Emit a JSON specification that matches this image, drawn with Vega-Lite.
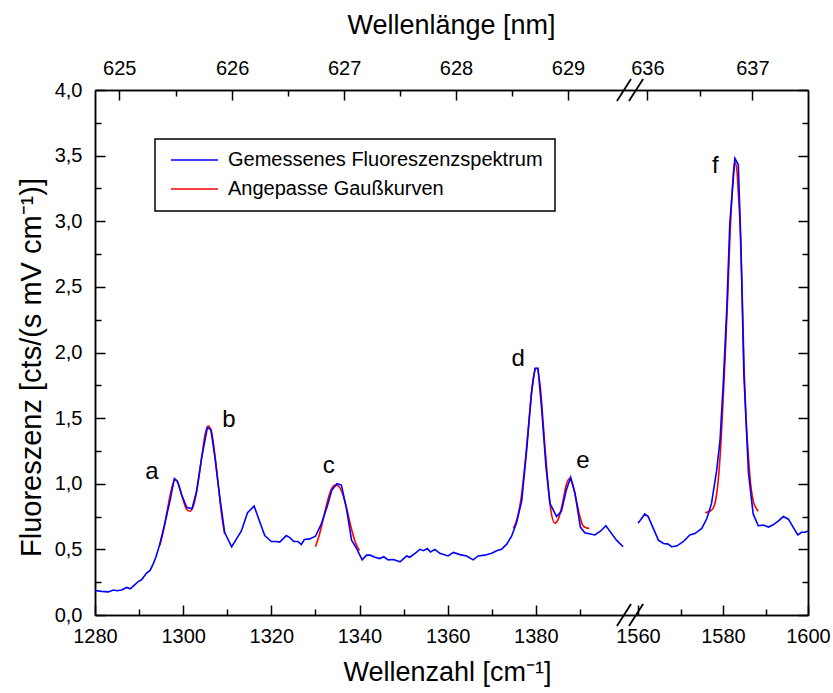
{
  "$schema": "https://vega.github.io/schema/vega-lite/v6.json",
  "width": 713,
  "height": 525,
  "autosize": {"type": "none"},
  "padding": {"left": 95, "top": 90, "right": 25, "bottom": 78},
  "background": "white",
  "config": {
    "view": {"stroke": null},
    "legend": {"strokeWidth": 1.5},
    "axis": {
      "grid": false,
      "domainColor": "black",
      "domainWidth": 1.5,
      "tickColor": "black",
      "tickWidth": 1.5,
      "labelFont": "Liberation Sans",
      "labelFontSize": 20,
      "labelColor": "black",
      "titleFont": "Liberation Sans",
      "titleFontSize": 27,
      "titleFontWeight": "normal",
      "titleColor": "black",
      "labelFlush": false,
      "labelOverlap": false,
      "labelBound": false
    }
  },
  "datasets": {
    "spec": [
      {"k":1280,"v":0.187,"p":"m1","s":"Gemessenes Fluoreszenzspektrum"},
      {"k":1281.5,"v":0.18,"p":"m1","s":"Gemessenes Fluoreszenzspektrum"},
      {"k":1283,"v":0.176,"p":"m1","s":"Gemessenes Fluoreszenzspektrum"},
      {"k":1284.2,"v":0.19,"p":"m1","s":"Gemessenes Fluoreszenzspektrum"},
      {"k":1285,"v":0.185,"p":"m1","s":"Gemessenes Fluoreszenzspektrum"},
      {"k":1286,"v":0.19,"p":"m1","s":"Gemessenes Fluoreszenzspektrum"},
      {"k":1287.2,"v":0.21,"p":"m1","s":"Gemessenes Fluoreszenzspektrum"},
      {"k":1288,"v":0.2,"p":"m1","s":"Gemessenes Fluoreszenzspektrum"},
      {"k":1289,"v":0.23,"p":"m1","s":"Gemessenes Fluoreszenzspektrum"},
      {"k":1289.8,"v":0.255,"p":"m1","s":"Gemessenes Fluoreszenzspektrum"},
      {"k":1290.6,"v":0.27,"p":"m1","s":"Gemessenes Fluoreszenzspektrum"},
      {"k":1291.7,"v":0.32,"p":"m1","s":"Gemessenes Fluoreszenzspektrum"},
      {"k":1292.5,"v":0.34,"p":"m1","s":"Gemessenes Fluoreszenzspektrum"},
      {"k":1293.2,"v":0.39,"p":"m1","s":"Gemessenes Fluoreszenzspektrum"},
      {"k":1293.8,"v":0.44,"p":"m1","s":"Gemessenes Fluoreszenzspektrum"},
      {"k":1294.7,"v":0.54,"p":"m1","s":"Gemessenes Fluoreszenzspektrum"},
      {"k":1295.8,"v":0.69,"p":"m1","s":"Gemessenes Fluoreszenzspektrum"},
      {"k":1297,"v":0.87,"p":"m1","s":"Gemessenes Fluoreszenzspektrum"},
      {"k":1298,"v":1.04,"p":"m1","s":"Gemessenes Fluoreszenzspektrum"},
      {"k":1298.7,"v":1.02,"p":"m1","s":"Gemessenes Fluoreszenzspektrum"},
      {"k":1299.6,"v":0.92,"p":"m1","s":"Gemessenes Fluoreszenzspektrum"},
      {"k":1300.8,"v":0.82,"p":"m1","s":"Gemessenes Fluoreszenzspektrum"},
      {"k":1302,"v":0.81,"p":"m1","s":"Gemessenes Fluoreszenzspektrum"},
      {"k":1303,"v":0.935,"p":"m1","s":"Gemessenes Fluoreszenzspektrum"},
      {"k":1304.2,"v":1.2,"p":"m1","s":"Gemessenes Fluoreszenzspektrum"},
      {"k":1305.5,"v":1.43,"p":"m1","s":"Gemessenes Fluoreszenzspektrum"},
      {"k":1306.3,"v":1.41,"p":"m1","s":"Gemessenes Fluoreszenzspektrum"},
      {"k":1307.2,"v":1.2,"p":"m1","s":"Gemessenes Fluoreszenzspektrum"},
      {"k":1308.3,"v":0.9,"p":"m1","s":"Gemessenes Fluoreszenzspektrum"},
      {"k":1309.4,"v":0.63,"p":"m1","s":"Gemessenes Fluoreszenzspektrum"},
      {"k":1311,"v":0.52,"p":"m1","s":"Gemessenes Fluoreszenzspektrum"},
      {"k":1312.1,"v":0.58,"p":"m1","s":"Gemessenes Fluoreszenzspektrum"},
      {"k":1313.2,"v":0.64,"p":"m1","s":"Gemessenes Fluoreszenzspektrum"},
      {"k":1314.6,"v":0.78,"p":"m1","s":"Gemessenes Fluoreszenzspektrum"},
      {"k":1316.1,"v":0.83,"p":"m1","s":"Gemessenes Fluoreszenzspektrum"},
      {"k":1317,"v":0.745,"p":"m1","s":"Gemessenes Fluoreszenzspektrum"},
      {"k":1318.5,"v":0.605,"p":"m1","s":"Gemessenes Fluoreszenzspektrum"},
      {"k":1320,"v":0.56,"p":"m1","s":"Gemessenes Fluoreszenzspektrum"},
      {"k":1321.1,"v":0.56,"p":"m1","s":"Gemessenes Fluoreszenzspektrum"},
      {"k":1321.9,"v":0.555,"p":"m1","s":"Gemessenes Fluoreszenzspektrum"},
      {"k":1323.4,"v":0.605,"p":"m1","s":"Gemessenes Fluoreszenzspektrum"},
      {"k":1324.2,"v":0.59,"p":"m1","s":"Gemessenes Fluoreszenzspektrum"},
      {"k":1325.1,"v":0.56,"p":"m1","s":"Gemessenes Fluoreszenzspektrum"},
      {"k":1326,"v":0.56,"p":"m1","s":"Gemessenes Fluoreszenzspektrum"},
      {"k":1326.8,"v":0.537,"p":"m1","s":"Gemessenes Fluoreszenzspektrum"},
      {"k":1327.5,"v":0.575,"p":"m1","s":"Gemessenes Fluoreszenzspektrum"},
      {"k":1328.7,"v":0.58,"p":"m1","s":"Gemessenes Fluoreszenzspektrum"},
      {"k":1330,"v":0.6,"p":"m1","s":"Gemessenes Fluoreszenzspektrum"},
      {"k":1331.3,"v":0.69,"p":"m1","s":"Gemessenes Fluoreszenzspektrum"},
      {"k":1332.7,"v":0.83,"p":"m1","s":"Gemessenes Fluoreszenzspektrum"},
      {"k":1333.7,"v":0.95,"p":"m1","s":"Gemessenes Fluoreszenzspektrum"},
      {"k":1334.9,"v":1.0,"p":"m1","s":"Gemessenes Fluoreszenzspektrum"},
      {"k":1335.9,"v":0.99,"p":"m1","s":"Gemessenes Fluoreszenzspektrum"},
      {"k":1337.1,"v":0.8,"p":"m1","s":"Gemessenes Fluoreszenzspektrum"},
      {"k":1338.2,"v":0.57,"p":"m1","s":"Gemessenes Fluoreszenzspektrum"},
      {"k":1339.3,"v":0.51,"p":"m1","s":"Gemessenes Fluoreszenzspektrum"},
      {"k":1340.6,"v":0.42,"p":"m1","s":"Gemessenes Fluoreszenzspektrum"},
      {"k":1341.6,"v":0.456,"p":"m1","s":"Gemessenes Fluoreszenzspektrum"},
      {"k":1342.4,"v":0.456,"p":"m1","s":"Gemessenes Fluoreszenzspektrum"},
      {"k":1343.5,"v":0.44,"p":"m1","s":"Gemessenes Fluoreszenzspektrum"},
      {"k":1344.6,"v":0.43,"p":"m1","s":"Gemessenes Fluoreszenzspektrum"},
      {"k":1345.5,"v":0.444,"p":"m1","s":"Gemessenes Fluoreszenzspektrum"},
      {"k":1346.5,"v":0.42,"p":"m1","s":"Gemessenes Fluoreszenzspektrum"},
      {"k":1347.7,"v":0.423,"p":"m1","s":"Gemessenes Fluoreszenzspektrum"},
      {"k":1349.2,"v":0.405,"p":"m1","s":"Gemessenes Fluoreszenzspektrum"},
      {"k":1350.7,"v":0.45,"p":"m1","s":"Gemessenes Fluoreszenzspektrum"},
      {"k":1351.4,"v":0.44,"p":"m1","s":"Gemessenes Fluoreszenzspektrum"},
      {"k":1352.6,"v":0.47,"p":"m1","s":"Gemessenes Fluoreszenzspektrum"},
      {"k":1353.7,"v":0.5,"p":"m1","s":"Gemessenes Fluoreszenzspektrum"},
      {"k":1354.5,"v":0.49,"p":"m1","s":"Gemessenes Fluoreszenzspektrum"},
      {"k":1355.4,"v":0.507,"p":"m1","s":"Gemessenes Fluoreszenzspektrum"},
      {"k":1356.1,"v":0.48,"p":"m1","s":"Gemessenes Fluoreszenzspektrum"},
      {"k":1357.1,"v":0.5,"p":"m1","s":"Gemessenes Fluoreszenzspektrum"},
      {"k":1358.2,"v":0.47,"p":"m1","s":"Gemessenes Fluoreszenzspektrum"},
      {"k":1360.1,"v":0.45,"p":"m1","s":"Gemessenes Fluoreszenzspektrum"},
      {"k":1361.3,"v":0.477,"p":"m1","s":"Gemessenes Fluoreszenzspektrum"},
      {"k":1362.8,"v":0.46,"p":"m1","s":"Gemessenes Fluoreszenzspektrum"},
      {"k":1364.3,"v":0.45,"p":"m1","s":"Gemessenes Fluoreszenzspektrum"},
      {"k":1365.8,"v":0.42,"p":"m1","s":"Gemessenes Fluoreszenzspektrum"},
      {"k":1366.9,"v":0.45,"p":"m1","s":"Gemessenes Fluoreszenzspektrum"},
      {"k":1368.4,"v":0.456,"p":"m1","s":"Gemessenes Fluoreszenzspektrum"},
      {"k":1370,"v":0.47,"p":"m1","s":"Gemessenes Fluoreszenzspektrum"},
      {"k":1371.1,"v":0.49,"p":"m1","s":"Gemessenes Fluoreszenzspektrum"},
      {"k":1372.2,"v":0.5,"p":"m1","s":"Gemessenes Fluoreszenzspektrum"},
      {"k":1373.4,"v":0.54,"p":"m1","s":"Gemessenes Fluoreszenzspektrum"},
      {"k":1374.5,"v":0.6,"p":"m1","s":"Gemessenes Fluoreszenzspektrum"},
      {"k":1375.6,"v":0.7,"p":"m1","s":"Gemessenes Fluoreszenzspektrum"},
      {"k":1376.8,"v":0.87,"p":"m1","s":"Gemessenes Fluoreszenzspektrum"},
      {"k":1377.9,"v":1.25,"p":"m1","s":"Gemessenes Fluoreszenzspektrum"},
      {"k":1379,"v":1.69,"p":"m1","s":"Gemessenes Fluoreszenzspektrum"},
      {"k":1379.8,"v":1.88,"p":"m1","s":"Gemessenes Fluoreszenzspektrum"},
      {"k":1380.5,"v":1.88,"p":"m1","s":"Gemessenes Fluoreszenzspektrum"},
      {"k":1381.3,"v":1.58,"p":"m1","s":"Gemessenes Fluoreszenzspektrum"},
      {"k":1382.3,"v":1.13,"p":"m1","s":"Gemessenes Fluoreszenzspektrum"},
      {"k":1383.2,"v":0.85,"p":"m1","s":"Gemessenes Fluoreszenzspektrum"},
      {"k":1384.7,"v":0.75,"p":"m1","s":"Gemessenes Fluoreszenzspektrum"},
      {"k":1385.8,"v":0.79,"p":"m1","s":"Gemessenes Fluoreszenzspektrum"},
      {"k":1386.9,"v":0.95,"p":"m1","s":"Gemessenes Fluoreszenzspektrum"},
      {"k":1387.9,"v":1.05,"p":"m1","s":"Gemessenes Fluoreszenzspektrum"},
      {"k":1388.9,"v":0.925,"p":"m1","s":"Gemessenes Fluoreszenzspektrum"},
      {"k":1390.1,"v":0.67,"p":"m1","s":"Gemessenes Fluoreszenzspektrum"},
      {"k":1391.1,"v":0.626,"p":"m1","s":"Gemessenes Fluoreszenzspektrum"},
      {"k":1393.4,"v":0.61,"p":"m1","s":"Gemessenes Fluoreszenzspektrum"},
      {"k":1394.7,"v":0.64,"p":"m1","s":"Gemessenes Fluoreszenzspektrum"},
      {"k":1395.9,"v":0.68,"p":"m1","s":"Gemessenes Fluoreszenzspektrum"},
      {"k":1397.2,"v":0.62,"p":"m1","s":"Gemessenes Fluoreszenzspektrum"},
      {"k":1398.3,"v":0.57,"p":"m1","s":"Gemessenes Fluoreszenzspektrum"},
      {"k":1399.8,"v":0.52,"p":"m1","s":"Gemessenes Fluoreszenzspektrum"},
      {"k":1559.7,"v":0.7,"p":"m2","s":"Gemessenes Fluoreszenzspektrum"},
      {"k":1560.5,"v":0.72,"p":"m2","s":"Gemessenes Fluoreszenzspektrum"},
      {"k":1561.6,"v":0.77,"p":"m2","s":"Gemessenes Fluoreszenzspektrum"},
      {"k":1562.4,"v":0.75,"p":"m2","s":"Gemessenes Fluoreszenzspektrum"},
      {"k":1563.6,"v":0.66,"p":"m2","s":"Gemessenes Fluoreszenzspektrum"},
      {"k":1564.8,"v":0.57,"p":"m2","s":"Gemessenes Fluoreszenzspektrum"},
      {"k":1566,"v":0.545,"p":"m2","s":"Gemessenes Fluoreszenzspektrum"},
      {"k":1567.1,"v":0.54,"p":"m2","s":"Gemessenes Fluoreszenzspektrum"},
      {"k":1567.9,"v":0.52,"p":"m2","s":"Gemessenes Fluoreszenzspektrum"},
      {"k":1569.1,"v":0.525,"p":"m2","s":"Gemessenes Fluoreszenzspektrum"},
      {"k":1570.7,"v":0.56,"p":"m2","s":"Gemessenes Fluoreszenzspektrum"},
      {"k":1572.2,"v":0.61,"p":"m2","s":"Gemessenes Fluoreszenzspektrum"},
      {"k":1573.4,"v":0.62,"p":"m2","s":"Gemessenes Fluoreszenzspektrum"},
      {"k":1575,"v":0.66,"p":"m2","s":"Gemessenes Fluoreszenzspektrum"},
      {"k":1576.2,"v":0.735,"p":"m2","s":"Gemessenes Fluoreszenzspektrum"},
      {"k":1577.3,"v":0.85,"p":"m2","s":"Gemessenes Fluoreszenzspektrum"},
      {"k":1578.5,"v":1.1,"p":"m2","s":"Gemessenes Fluoreszenzspektrum"},
      {"k":1579.3,"v":1.33,"p":"m2","s":"Gemessenes Fluoreszenzspektrum"},
      {"k":1580.1,"v":1.79,"p":"m2","s":"Gemessenes Fluoreszenzspektrum"},
      {"k":1580.9,"v":2.34,"p":"m2","s":"Gemessenes Fluoreszenzspektrum"},
      {"k":1581.6,"v":2.98,"p":"m2","s":"Gemessenes Fluoreszenzspektrum"},
      {"k":1582.8,"v":3.48,"p":"m2","s":"Gemessenes Fluoreszenzspektrum"},
      {"k":1583.6,"v":3.43,"p":"m2","s":"Gemessenes Fluoreszenzspektrum"},
      {"k":1584.2,"v":2.85,"p":"m2","s":"Gemessenes Fluoreszenzspektrum"},
      {"k":1584.9,"v":1.84,"p":"m2","s":"Gemessenes Fluoreszenzspektrum"},
      {"k":1586,"v":1.08,"p":"m2","s":"Gemessenes Fluoreszenzspektrum"},
      {"k":1587.1,"v":0.77,"p":"m2","s":"Gemessenes Fluoreszenzspektrum"},
      {"k":1588.3,"v":0.68,"p":"m2","s":"Gemessenes Fluoreszenzspektrum"},
      {"k":1589.5,"v":0.685,"p":"m2","s":"Gemessenes Fluoreszenzspektrum"},
      {"k":1590.7,"v":0.67,"p":"m2","s":"Gemessenes Fluoreszenzspektrum"},
      {"k":1591.7,"v":0.685,"p":"m2","s":"Gemessenes Fluoreszenzspektrum"},
      {"k":1593,"v":0.715,"p":"m2","s":"Gemessenes Fluoreszenzspektrum"},
      {"k":1594.2,"v":0.75,"p":"m2","s":"Gemessenes Fluoreszenzspektrum"},
      {"k":1595.4,"v":0.73,"p":"m2","s":"Gemessenes Fluoreszenzspektrum"},
      {"k":1596.5,"v":0.67,"p":"m2","s":"Gemessenes Fluoreszenzspektrum"},
      {"k":1597.6,"v":0.61,"p":"m2","s":"Gemessenes Fluoreszenzspektrum"},
      {"k":1598.5,"v":0.63,"p":"m2","s":"Gemessenes Fluoreszenzspektrum"},
      {"k":1599.3,"v":0.63,"p":"m2","s":"Gemessenes Fluoreszenzspektrum"},
      {"k":1600,"v":0.64,"p":"m2","s":"Gemessenes Fluoreszenzspektrum"}
    ],
    "fit": [
      {"k":1294.7,"v":0.53,"p":"f1","s":"Angepasse Gaußkurven"},
      {"k":1295.5,"v":0.64,"p":"f1","s":"Angepasse Gaußkurven"},
      {"k":1296.4,"v":0.8,"p":"f1","s":"Angepasse Gaußkurven"},
      {"k":1297.3,"v":0.95,"p":"f1","s":"Angepasse Gaußkurven"},
      {"k":1298.1,"v":1.03,"p":"f1","s":"Angepasse Gaußkurven"},
      {"k":1298.9,"v":1.0,"p":"f1","s":"Angepasse Gaußkurven"},
      {"k":1299.8,"v":0.9,"p":"f1","s":"Angepasse Gaußkurven"},
      {"k":1300.7,"v":0.81,"p":"f1","s":"Angepasse Gaußkurven"},
      {"k":1301.5,"v":0.79,"p":"f1","s":"Angepasse Gaußkurven"},
      {"k":1302.4,"v":0.84,"p":"f1","s":"Angepasse Gaußkurven"},
      {"k":1303.3,"v":0.99,"p":"f1","s":"Angepasse Gaußkurven"},
      {"k":1304.2,"v":1.2,"p":"f1","s":"Angepasse Gaußkurven"},
      {"k":1305.0,"v":1.38,"p":"f1","s":"Angepasse Gaußkurven"},
      {"k":1305.7,"v":1.44,"p":"f1","s":"Angepasse Gaußkurven"},
      {"k":1306.4,"v":1.4,"p":"f1","s":"Angepasse Gaußkurven"},
      {"k":1307.2,"v":1.22,"p":"f1","s":"Angepasse Gaußkurven"},
      {"k":1308.0,"v":0.98,"p":"f1","s":"Angepasse Gaußkurven"},
      {"k":1308.7,"v":0.77,"p":"f1","s":"Angepasse Gaußkurven"},
      {"k":1309.4,"v":0.62,"p":"f1","s":"Angepasse Gaußkurven"},
      {"k":1330.0,"v":0.52,"p":"f2","s":"Angepasse Gaußkurven"},
      {"k":1330.8,"v":0.6,"p":"f2","s":"Angepasse Gaußkurven"},
      {"k":1331.7,"v":0.72,"p":"f2","s":"Angepasse Gaußkurven"},
      {"k":1332.6,"v":0.85,"p":"f2","s":"Angepasse Gaußkurven"},
      {"k":1333.5,"v":0.95,"p":"f2","s":"Angepasse Gaußkurven"},
      {"k":1334.5,"v":0.99,"p":"f2","s":"Angepasse Gaußkurven"},
      {"k":1335.3,"v":0.98,"p":"f2","s":"Angepasse Gaußkurven"},
      {"k":1336.2,"v":0.92,"p":"f2","s":"Angepasse Gaußkurven"},
      {"k":1337.1,"v":0.81,"p":"f2","s":"Angepasse Gaußkurven"},
      {"k":1338.0,"v":0.68,"p":"f2","s":"Angepasse Gaußkurven"},
      {"k":1339.0,"v":0.56,"p":"f2","s":"Angepasse Gaußkurven"},
      {"k":1340.0,"v":0.49,"p":"f2","s":"Angepasse Gaußkurven"},
      {"k":1374.9,"v":0.66,"p":"f3","s":"Angepasse Gaußkurven"},
      {"k":1375.8,"v":0.74,"p":"f3","s":"Angepasse Gaußkurven"},
      {"k":1376.7,"v":0.9,"p":"f3","s":"Angepasse Gaußkurven"},
      {"k":1377.6,"v":1.17,"p":"f3","s":"Angepasse Gaußkurven"},
      {"k":1378.5,"v":1.5,"p":"f3","s":"Angepasse Gaußkurven"},
      {"k":1379.4,"v":1.8,"p":"f3","s":"Angepasse Gaußkurven"},
      {"k":1380.2,"v":1.88,"p":"f3","s":"Angepasse Gaußkurven"},
      {"k":1381.0,"v":1.74,"p":"f3","s":"Angepasse Gaußkurven"},
      {"k":1381.8,"v":1.4,"p":"f3","s":"Angepasse Gaußkurven"},
      {"k":1382.6,"v":1.06,"p":"f3","s":"Angepasse Gaußkurven"},
      {"k":1383.4,"v":0.8,"p":"f3","s":"Angepasse Gaußkurven"},
      {"k":1384.3,"v":0.7,"p":"f3","s":"Angepasse Gaußkurven"},
      {"k":1385.2,"v":0.74,"p":"f3","s":"Angepasse Gaußkurven"},
      {"k":1386.1,"v":0.86,"p":"f3","s":"Angepasse Gaußkurven"},
      {"k":1386.9,"v":0.99,"p":"f3","s":"Angepasse Gaußkurven"},
      {"k":1387.6,"v":1.04,"p":"f3","s":"Angepasse Gaußkurven"},
      {"k":1388.4,"v":0.99,"p":"f3","s":"Angepasse Gaußkurven"},
      {"k":1389.2,"v":0.87,"p":"f3","s":"Angepasse Gaußkurven"},
      {"k":1390.0,"v":0.75,"p":"f3","s":"Angepasse Gaußkurven"},
      {"k":1390.7,"v":0.68,"p":"f3","s":"Angepasse Gaußkurven"},
      {"k":1391.4,"v":0.665,"p":"f3","s":"Angepasse Gaußkurven"},
      {"k":1392.1,"v":0.66,"p":"f3","s":"Angepasse Gaußkurven"},
      {"k":1575.8,"v":0.78,"p":"f4","s":"Angepasse Gaußkurven"},
      {"k":1576.9,"v":0.79,"p":"f4","s":"Angepasse Gaußkurven"},
      {"k":1577.6,"v":0.81,"p":"f4","s":"Angepasse Gaußkurven"},
      {"k":1578.1,"v":0.85,"p":"f4","s":"Angepasse Gaußkurven"},
      {"k":1578.7,"v":0.97,"p":"f4","s":"Angepasse Gaußkurven"},
      {"k":1579.3,"v":1.2,"p":"f4","s":"Angepasse Gaußkurven"},
      {"k":1579.9,"v":1.55,"p":"f4","s":"Angepasse Gaußkurven"},
      {"k":1580.5,"v":1.96,"p":"f4","s":"Angepasse Gaußkurven"},
      {"k":1581.1,"v":2.42,"p":"f4","s":"Angepasse Gaußkurven"},
      {"k":1581.6,"v":2.85,"p":"f4","s":"Angepasse Gaußkurven"},
      {"k":1582.2,"v":3.25,"p":"f4","s":"Angepasse Gaußkurven"},
      {"k":1582.7,"v":3.45,"p":"f4","s":"Angepasse Gaußkurven"},
      {"k":1583.2,"v":3.41,"p":"f4","s":"Angepasse Gaußkurven"},
      {"k":1583.6,"v":3.22,"p":"f4","s":"Angepasse Gaußkurven"},
      {"k":1584.0,"v":2.98,"p":"f4","s":"Angepasse Gaußkurven"},
      {"k":1584.5,"v":2.48,"p":"f4","s":"Angepasse Gaußkurven"},
      {"k":1584.9,"v":1.96,"p":"f4","s":"Angepasse Gaußkurven"},
      {"k":1585.4,"v":1.52,"p":"f4","s":"Angepasse Gaußkurven"},
      {"k":1586.0,"v":1.2,"p":"f4","s":"Angepasse Gaußkurven"},
      {"k":1586.5,"v":1.0,"p":"f4","s":"Angepasse Gaußkurven"},
      {"k":1587.1,"v":0.87,"p":"f4","s":"Angepasse Gaußkurven"},
      {"k":1587.7,"v":0.82,"p":"f4","s":"Angepasse Gaußkurven"},
      {"k":1588.3,"v":0.79,"p":"f4","s":"Angepasse Gaußkurven"}
    ],
    "peaks": [
      {"k":1292.9,"v":1.04,"t":"a"},
      {"k":1310.4,"v":1.43,"t":"b"},
      {"k":1333.0,"v":1.08,"t":"c"},
      {"k":1376.0,"v":1.9,"t":"d"},
      {"k":1390.7,"v":1.12,"t":"e"},
      {"k":1578.2,"v":3.37,"t":"f"}
    ],
    "breaks": [
      {"k1":1398.4,"k2":1480,"v1":-0.084,"v2":0.084},
      {"k1":1457,"k2":1561.2,"v1":-0.084,"v2":0.084},
      {"k1":1398.4,"k2":1480,"v1":3.916,"v2":4.084},
      {"k1":1457,"k2":1561.2,"v1":3.916,"v2":4.084}
    ]
  },
  "resolve": {"axis": {"x": "independent", "y": "independent"}},
  "layer": [
    {
      "data": {"name": "fit"},
      "mark": {"type": "line", "strokeWidth": 1.6, "interpolate": "monotone"},
      "encoding": {
        "x": {"field": "k", "type": "quantitative",
          "scale": {"domain": [1280, 1400, 1560, 1600], "range": [0, 529, 543, 713], "nice": false, "zero": false},
          "axis": {"orient": "bottom", "title": "Wellenzahl [cm⁻¹]", "values": [1280, 1300, 1320, 1340, 1360, 1380, 1560, 1580, 1600],
            "format": "d", "tickSize": -10, "labelPadding": 21, "titleX": 352, "titleY": 65, "titleBaseline": "alphabetic", "titleAlign": "center"}},
        "y": {"field": "v", "type": "quantitative",
          "scale": {"domain": [0, 4], "nice": false},
          "axis": {"orient": "left", "title": "Fluoreszenz [cts/(s mV cm⁻¹)]", "values": [0, 0.5, 1, 1.5, 2, 2.5, 3, 3.5, 4],
            "labelExpr": "replace(format(datum.value, '.1f'), '.', ',')", "tickSize": -10, "labelPadding": 23,
            "titleFontSize": 29, "titleX": -55, "titleY": 277, "titleBaseline": "alphabetic", "titleAlign": "center", "titleAngle": -90}},
        "color": {"field": "s", "type": "nominal",
          "scale": {"domain": ["Gemessenes Fluoreszenzspektrum", "Angepasse Gaußkurven"], "range": ["#0000ff", "#ff0000"]},
          "legend": {"orient": "none", "legendX": 60, "legendY": 49, "title": null, "symbolType": "stroke", "symbolSize": 2209,
            "symbolStrokeWidth": 1.6, "labelFont": "Liberation Sans", "labelFontSize": 20, "labelColor": "black", "labelLimit": 0,
            "strokeColor": "black", "fillColor": "white", "padding": 12, "clipHeight": 18, "rowPadding": 9,
            "labelOffset": 9, "symbolOffset": 3}},
        "detail": {"field": "p"}
      }
    },
    {
      "data": {"name": "spec"},
      "mark": {"type": "line", "strokeWidth": 1.6},
      "encoding": {
        "x": {"field": "k", "type": "quantitative",
          "scale": {"domain": [1280, 1400, 1560, 1600], "range": [0, 529, 543, 713], "nice": false, "zero": false},
          "axis": {"orient": "bottom", "title": null, "labels": false, "values": [1290, 1310, 1330, 1350, 1370, 1390, 1570, 1590], "tickSize": -6}},
        "y": {"field": "v", "type": "quantitative",
          "scale": {"domain": [0, 4], "nice": false},
          "axis": {"orient": "left", "title": null, "labels": false, "values": [0.25, 0.75, 1.25, 1.75, 2.25, 2.75, 3.25, 3.75], "tickSize": -6}},
        "color": {"field": "s", "type": "nominal",
          "scale": {"domain": ["Gemessenes Fluoreszenzspektrum", "Angepasse Gaußkurven"], "range": ["#0000ff", "#ff0000"]}},
        "detail": {"field": "p"}
      }
    },
    {
      "data": {"name": "peaks"},
      "mark": {"type": "text", "font": "Liberation Sans", "fontSize": 24, "color": "black", "align": "center", "baseline": "alphabetic"},
      "encoding": {
        "x": {"field": "k", "type": "quantitative",
          "scale": {"domain": [1280, 1400, 1560, 1600], "range": [0, 529, 543, 713], "nice": false, "zero": false},
          "axis": {"orient": "top", "title": "Wellenlänge [nm]", "values": [1285.5, 1311.1, 1336.5, 1361.9, 1387.3, 1562.2, 1586.9],
            "labelExpr": "format(round(1e7 / (17285.5 - datum.value)), 'd')", "tickSize": -10, "labelPadding": 22,
            "titleX": 356, "titleY": -57, "titleBaseline": "alphabetic", "titleAlign": "center"}},
        "y": {"field": "v", "type": "quantitative",
          "scale": {"domain": [0, 4], "nice": false},
          "axis": {"orient": "right", "title": null, "labels": false, "values": [0, 0.5, 1, 1.5, 2, 2.5, 3, 3.5, 4], "tickSize": -10}},
        "text": {"field": "t"}
      }
    },
    {
      "data": {"name": "breaks"},
      "mark": {"type": "rule", "strokeWidth": 1.8, "color": "black"},
      "encoding": {
        "x": {"field": "k1", "type": "quantitative",
          "scale": {"domain": [1280, 1400, 1560, 1600], "range": [0, 529, 543, 713], "nice": false, "zero": false},
          "axis": {"orient": "top", "title": null, "labels": false, "values": [1298.3, 1323.8, 1349.2, 1374.6, 1574.6], "tickSize": -6}},
        "x2": {"field": "k2"},
        "y": {"field": "v1", "type": "quantitative",
          "scale": {"domain": [0, 4], "nice": false},
          "axis": {"orient": "right", "title": null, "labels": false, "values": [0.25, 0.75, 1.25, 1.75, 2.25, 2.75, 3.25, 3.75], "tickSize": -6}},
        "y2": {"field": "v2"}
      }
    }
  ]
}
